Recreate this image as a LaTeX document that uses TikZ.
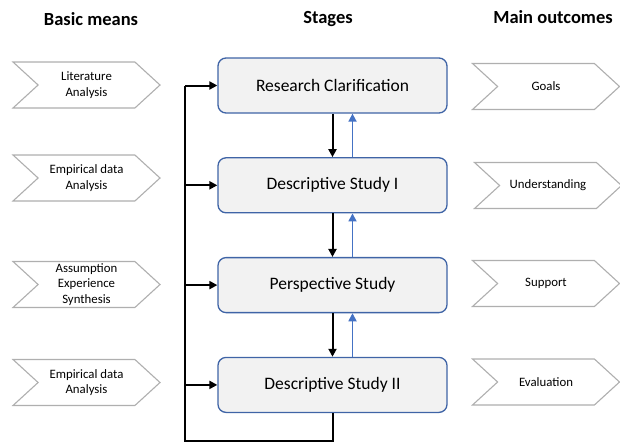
\documentclass[tikz,border=0pt]{standalone}
\usepackage{fontspec}
\setmainfont{Carlito}
\usepackage{tikz}
\usetikzlibrary{positioning, shapes.symbols, arrows.meta}
\usepackage{xcolor}
\definecolor{stageBorder}{HTML}{3F64A6}
\definecolor{stageFill}{HTML}{F2F2F2}
\definecolor{backColor}{HTML}{4472C4}
\definecolor{chevronGray}{HTML}{AFAFAF}
\newcommand{\StageNames}{Descriptive Study I,Perspective Study,Descriptive Study II}
\newcommand{\MeansList}{85/Literature\\Analysis,178/Empirical data\\Analysis,284.5/Assumption\\Experience\\Synthesis,382.5/Empirical data\\Analysis}
\newcommand{\OutcomeList}{546/86.5/Goals,548/185.5/Understanding,546/283.5/Support,546/382/Evaluation}

\begin{document}
\begin{tikzpicture}[
	x=1pt, y=-1pt,
	heading/.style={
		font=\bfseries\fontsize{18.5}{22}\selectfont
	},
	stage/.style={
		draw=stageBorder,
		fill=stageFill,
		line width=1.3pt,
		rounded corners=8pt,
		minimum width=229pt,
		minimum height=55pt,
		font=\fontsize{17.5}{20}\selectfont,
		node distance=43.5pt
	},
	chevron/.style={
		signal,
		signal to=east,
		signal from=west,
		signal pointer angle=85,
		draw=chevronGray,
		fill=white,
		line width=1.1pt,
		minimum width=147pt,
		minimum height=46pt,
		inner sep=1pt,
		align=center,
		font=\fontsize{12.8}{15.5}\selectfont
	},
	flow/.style={
		-{Triangle[length=8pt,width=8pt]},
		line width=2pt
	},
	back flow/.style={
		flow,
		draw=backColor,
		fill=backColor,
		line width=1.7pt
	}
]
	\useasboundingbox (0,0) rectangle (620,442);
	% column titles
	\node[heading] (title means) at (91,19) {Basic means};
	\node[heading] (title stages) at (328,19) {Stages};
	\node[heading] (title outcomes) at (553,17) {Main outcomes};
	% stages
	\node[stage] (stage 1) at (332.5,85.5) {Research Clarification};
	\foreach \s [count=\p from 2, remember=\p as \prevP (initially 1)] in \StageNames {
		\node[stage, below=of stage \prevP] (stage \p) {\s};
		\draw[flow] (stage \prevP.south) -- (stage \p.north);
		\draw[back flow] ([xshift=20pt]stage \p.north) -- ([xshift=20pt]stage \prevP.south);
	};
	% basic means and outcomes
	\foreach \y/\t [count=\m] in \MeansList {
		\node[chevron] (means \m) at (86.5,\y) {\t};
	};
	\foreach \x/\y/\t [count=\o] in \OutcomeList {
		\node[chevron] (outcome \o) at (\x,\y) {\t};
	};
	% iteration rail
	\coordinate (rail bottom) at (185,440.5);
	\coordinate (rail top) at (rail bottom |- stage 1.west);
	\draw[line width=2pt] (stage 4.south) |- (rail bottom) -- (rail top);
	\foreach \s in {1,...,4} {
		\coordinate (rail \s) at (rail bottom |- stage \s.west);
		\draw[flow] (rail \s) -- (stage \s.west);
	};
\end{tikzpicture}
\end{document}
